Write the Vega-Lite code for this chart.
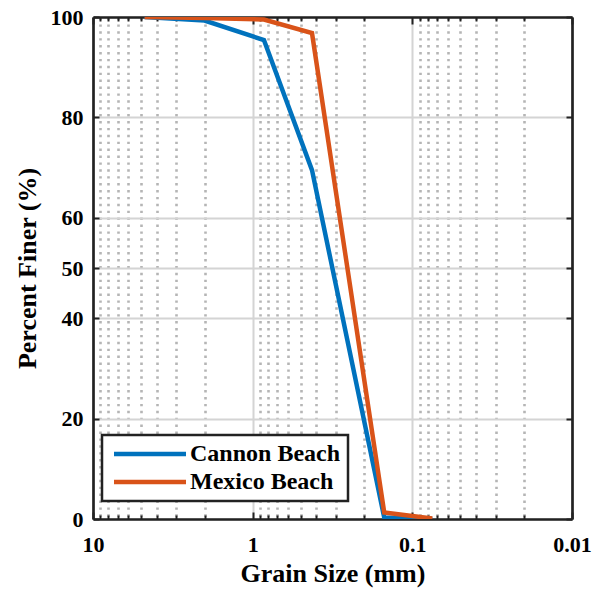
{
  "$schema": "https://vega.github.io/schema/vega-lite/v6.json",
  "width": 479,
  "height": 502,
  "autosize": {"type": "none"},
  "padding": {"left": 93, "top": 17, "right": 30, "bottom": 71},
  "background": "white",
  "config": {
    "view": {"stroke": null},
    "font": "Liberation Serif, DejaVu Serif, serif",
    "axis": {
      "labelFont": "Liberation Serif, DejaVu Serif, serif",
      "titleFont": "Liberation Serif, DejaVu Serif, serif",
      "labelFontWeight": "bold",
      "titleFontWeight": "bold",
      "labelColor": "black",
      "titleColor": "black",
      "domainColor": "#222222",
      "domainWidth": 2.7,
      "tickColor": "#222222",
      "tickWidth": 2
    },
    "legend": {"strokeWidth": 2.5}
  },
  "data": {
    "values": [
      {"size": 4.75, "pct": 100, "sample": "Cannon Beach"},
      {"size": 2.0, "pct": 99.3, "sample": "Cannon Beach"},
      {"size": 0.85, "pct": 95.4, "sample": "Cannon Beach"},
      {"size": 0.425, "pct": 69.5, "sample": "Cannon Beach"},
      {"size": 0.15, "pct": 0.3, "sample": "Cannon Beach"},
      {"size": 0.075, "pct": 0, "sample": "Cannon Beach"},
      {"size": 4.75, "pct": 100, "sample": "Mexico Beach"},
      {"size": 2.0, "pct": 99.8, "sample": "Mexico Beach"},
      {"size": 0.85, "pct": 99.5, "sample": "Mexico Beach"},
      {"size": 0.425, "pct": 96.8, "sample": "Mexico Beach"},
      {"size": 0.15, "pct": 1.3, "sample": "Mexico Beach"},
      {"size": 0.075, "pct": 0.1, "sample": "Mexico Beach"}
    ]
  },
  "layer": [
    {
      "mark": {"type": "line", "strokeWidth": 4.5, "clip": true},
      "encoding": {
        "x": {
          "field": "size",
          "type": "quantitative",
          "scale": {"type": "log", "domain": [0.01, 10], "reverse": true, "nice": false},
          "axis": {
            "orient": "bottom",
            "title": "Grain Size (mm)",
            "titleFontSize": 26,
            "titlePadding": 2,
            "labelFontSize": 22,
            "labelPadding": 22,
            "labelOverlap": false,
            "labelFlush": false,
            "values": [0.01,0.02,0.03,0.04,0.05,0.06,0.07,0.08,0.09,0.1,0.2,0.3,0.4,0.5,0.6,0.7,0.8,0.9,1,2,3,4,5,6,7,8,9,10],
            "labelExpr": "datum.value == 10 ? '10' : datum.value == 1 ? '1' : datum.value == 0.1 ? '0.1' : datum.value == 0.01 ? '0.01' : ''",
            "grid": true,
            "gridColor": "#b5b5b5",
            "gridWidth": 2.6,
            "gridDash": [2.4, 4.5],
            "gridOpacity": {"condition": {"test": "datum.value == 10 || datum.value == 1 || datum.value == 0.1 || datum.value == 0.01", "value": 0}, "value": 1},
            "tickSize": {"condition": {"test": "datum.value == 10 || datum.value == 1 || datum.value == 0.1 || datum.value == 0.01", "value": -7}, "value": -4}
          }
        },
        "y": {
          "field": "pct",
          "type": "quantitative",
          "scale": {"domain": [0, 100], "nice": false},
          "axis": {
            "orient": "left",
            "title": "Percent Finer (%)",
            "titleFontSize": 26,
            "titlePadding": 10,
            "labelFontSize": 22,
            "labelPadding": 16,
            "values": [0, 20, 40, 50, 60, 80, 100],
            "grid": true,
            "gridColor": "#d4d4d4",
            "gridWidth": 2,
            "tickSize": -6
          }
        },
        "color": {
          "field": "sample",
          "type": "nominal",
          "scale": {"domain": ["Cannon Beach", "Mexico Beach"], "range": ["#0072BD", "#D95319"]},
          "legend": {
            "title": null,
            "orient": "none",
            "legendX": 9,
            "legendY": 418,
            "symbolType": "M-4.8,0H4.8",
            "symbolSize": 225,
            "symbolOffset": 29,
            "symbolStrokeWidth": 4.5,
            "labelFont": "Liberation Serif, DejaVu Serif, serif",
            "labelFontWeight": "bold",
            "labelFontSize": 24,
            "labelColor": "black",
            "labelOffset": 28,
            "rowPadding": 4,
            "padding": 7,
            "strokeColor": "#222222",
            "fillColor": "white",
            "cornerRadius": 0
          }
        }
      }
    },
    {
      "mark": {"type": "line", "opacity": 0},
      "encoding": {
        "x": {
          "field": "size",
          "type": "quantitative",
          "axis": {
            "orient": "top",
            "title": null,
            "labels": false,
            "grid": true,
            "gridColor": "#d4d4d4",
            "gridWidth": 2,
            "gridOpacity": {"condition": {"test": "datum.value == 1 || datum.value == 0.1", "value": 1}, "value": 0},
            "values": [0.01,0.02,0.03,0.04,0.05,0.06,0.07,0.08,0.09,0.1,0.2,0.3,0.4,0.5,0.6,0.7,0.8,0.9,1,2,3,4,5,6,7,8,9,10],
            "tickSize": {"condition": {"test": "datum.value == 10 || datum.value == 1 || datum.value == 0.1 || datum.value == 0.01", "value": -7}, "value": -4}
          }
        },
        "y": {
          "field": "pct",
          "type": "quantitative",
          "axis": {
            "orient": "right",
            "title": null,
            "labels": false,
            "grid": false,
            "values": [0, 20, 40, 50, 60, 80, 100],
            "tickSize": -6
          }
        }
      }
    }
  ],
  "resolve": {"axis": {"x": "independent", "y": "independent"}}
}
